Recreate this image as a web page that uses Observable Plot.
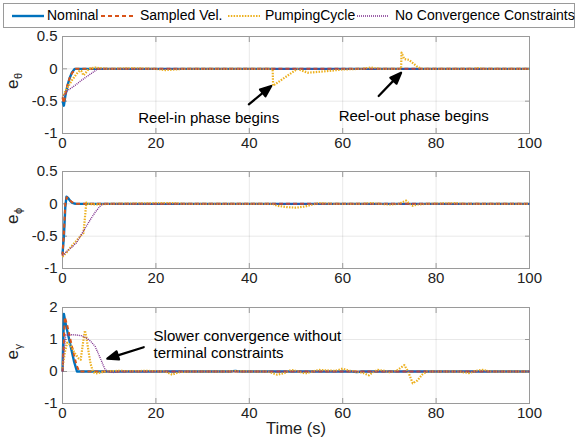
<!DOCTYPE html>
<html><head><meta charset="utf-8">
<script src="https://cdn.jsdelivr.net/npm/d3@7"></script>
<script src="https://cdn.jsdelivr.net/npm/@observablehq/plot@0.6"></script>
<style>
body{margin:0;background:#fff;font-family:"Liberation Sans",Arial,sans-serif;}
#root{position:relative;width:576px;height:446px;overflow:hidden;background:#fff}
#legend{position:absolute;left:3px;top:3px;width:572px;height:25px;border:1px solid #9a9a9a;box-sizing:border-box;background:#fff}
.item{position:absolute;top:0;height:23px;line-height:23px;font-size:14px;color:#000;white-space:nowrap}
.sw{position:absolute;top:0}
.panel{position:absolute;left:0}
</style></head><body><div id="root"><div id="legend"></div></div>
<script>
// ---------- data ----------
const seriesNames = ["Nominal", "Sampled Vel.", "PumpingCycle", "No Convergence Constraints"];
const xTicks = [0, 20, 40, 60, 80, 100];
const yTicksAngle = [-1, -0.5, 0, 0.5];
const yTicksGamma = [-1, 0, 1, 2];

// e_theta  [time, value]
const thetaNominal = [[0,-0.5],[0.3,-0.57],[0.6,-0.42],[1,-0.28],[1.5,-0.15],[2,-0.06],[2.6,0],[100,0]];
const thetaSampled = [[0,-0.45],[0.3,-0.53],[0.6,-0.4],[1,-0.27],[1.5,-0.15],[2,-0.07],[2.8,0],[100,0]];
const thetaPumping = [[0,-0.45],[0.5,-0.36],[1,-0.3],[1.5,-0.24],[2,-0.18],[2.5,-0.13],[3,-0.08],[3.5,-0.04],[4,-0.03],[4.5,-0.1],[5,-0.06],[5.5,-0.01],[6,0.01],[7,0.02],[8,0.01],[10,0],[15,0.01],[20,0],[22,-0.02],[24,-0.01],[26,0],[45,0],[45.1,-0.26],[50.3,0],[52.5,-0.06],[56,-0.04],[60,-0.01],[64,0],[66,0.02],[68,0],[72.5,0],[72.6,0.25],[73.2,0.15],[74.2,0.14],[75,0.09],[76,0.03],[77,0],[88,0],[89,0.01],[90,0],[100,0]];
const thetaNoConv = [[0,-0.45],[0.5,-0.39],[1,-0.34],[2,-0.29],[3,-0.24],[4,-0.18],[5,-0.13],[6,-0.08],[7,-0.03],[7.5,0],[100,0]];

// e_phi
const phiNominal = [[0,-0.78],[0.3,-0.5],[0.6,-0.05],[0.85,0.11],[1.2,0.09],[1.6,0.05],[2,0.02],[2.5,0.005],[3,0],[100,0]];
const phiSampled = [[0,-0.8],[0.3,-0.45],[0.6,0],[0.9,0.1],[1.3,0.08],[1.8,0.04],[2.4,0.01],[3,0],[100,0]];
const phiPumping = [[0,-0.82],[1,-0.74],[2,-0.65],[3,-0.57],[4.2,-0.47],[4.5,-0.45],[5.1,0.02],[5.5,0],[7,-0.01],[10,0],[15,0.005],[20,0.01],[24,0.01],[26,0],[45,0],[46,-0.03],[48,-0.05],[50,-0.06],[52,-0.04],[53.5,-0.01],[55,0.01],[58,0],[64,0],[66,0.01],[68,0],[70,-0.01],[72,0],[73.6,0.05],[74.3,0],[75,-0.03],[76,-0.01],[78,0],[84,0.01],[86,0],[100,0]];
const phiNoConv = [[0,-0.8],[1,-0.73],[2,-0.67],[3,-0.6],[4,-0.48],[5,-0.36],[6,-0.24],[7,-0.13],[8,-0.04],[8.6,0],[100,0]];

// e_gamma
const gammaNominal = [[0,0],[0.3,1.8],[0.6,1.55],[1.5,0.95],[2.5,0.3],[3.1,0],[36,0],[37,0.02],[38,0],[62,0],[63,-0.02],[64,0],[100,0]];
const gammaSampled = [[0,0],[0.5,1.7],[1,1.45],[2,0.8],[3,0.2],[3.6,0],[100,0]];
const gammaPumping = [[0,0.1],[0.5,0.6],[1,0.9],[1.5,0.85],[2,0.75],[2.5,0.6],[3,0.5],[3.5,0.4],[3.9,0.37],[4.4,0.9],[4.8,1.28],[5.2,1.0],[5.6,0.6],[6,0.25],[6.5,0],[7,-0.06],[8,-0.04],[9,0],[12,0.02],[15,0.01],[18,0.02],[20,0.01],[22,0],[23.5,-0.1],[25,-0.02],[27,0],[35,0],[37,0.01],[40,0],[44,0],[46,-0.1],[47.5,-0.05],[49,0.05],[50.5,0],[52,-0.06],[53.5,0],[55,0.05],[57,0.03],[58.5,0.02],[60,0.09],[61.5,0.02],[63,0],[64.5,-0.05],[65.6,-0.12],[66.5,-0.02],[67.5,0.05],[69,0.02],[70,-0.02],[71.5,0.02],[73.2,0.2],[74,0],[75,-0.37],[76,-0.28],[77,-0.1],[78,0],[85,0],[87,-0.05],[88.5,0.02],[90,0.05],[91.5,0],[100,0]];
const gammaNoConv = [[0,0],[0.3,0.6],[0.7,1.15],[2,1.15],[3,1.14],[4,1.12],[5,1.06],[6,0.95],[7,0.78],[8,0.45],[9,0.1],[9.5,0],[11,-0.03],[12,0],[100,0]];

// annotations (data coordinates)
const thetaArrows = [{x1:39.9,y1:-0.55,x2:44.7,y2:-0.265},{x1:67.7,y1:-0.42,x2:72.5,y2:-0.06}];
const thetaNotes = [{x:31.3,y:-0.75,text:"Reel-in phase begins"},{x:75.2,y:-0.73,text:"Reel-out phase begins"}];
const gammaArrows = [{x1:17.4,y1:0.76,x2:9.6,y2:0.4}];
const gammaNotes = [{x:19.5,y:0.85,text:"Slower convergence without\nterminal constraints"}];

// ---------- styles ----------
const styles = [
  {stroke:"#0072BD", strokeWidth:2.4, dash:null},
  {stroke:"#D95319", strokeWidth:2, dash:"4,3"},
  {stroke:"#EDB120", strokeWidth:2.2, dash:"1.5,1.3"},
  {stroke:"#7E2F8E", strokeWidth:1.4, dash:"1,1"}
];
const fontFamily = '"Liberation Sans", Arial, sans-serif';

// ---------- legend ----------
const legend = document.getElementById("legend");
const swX = [7, 96, 223, 352], txtX = [43, 136, 261, 391];
seriesNames.forEach((name, i) => {
  const s = styles[i];
  const sv = d3.select(legend).append("svg").attr("class","sw").attr("width",34).attr("height",23)
    .style("left", swX[i] + "px");
  sv.append("line").attr("x1",1).attr("x2",33).attr("y1",12).attr("y2",12)
    .attr("stroke", s.stroke).attr("stroke-width", s.strokeWidth).attr("stroke-dasharray", s.dash);
  d3.select(legend).append("div").attr("class","item").style("left", txtX[i] + "px").text(name);
});

// filled-head arrow shape for Plot.vector
const arrowShape = {
  draw(context, l) {
    const h = 11, w = 4.3;
    context.moveTo(0, 0);
    context.lineTo(0, -l + h);
    context.moveTo(0, -l);
    context.lineTo(-w, -l + h);
    context.lineTo(w, -l + h);
    context.closePath();
  }
};

// ---------- panels ----------
function panel({series, top, height, marginTop, marginBottom, yDomain, yTicks, sub, arrows, notes, xlabel}) {
  const ml = 62, mr = 47, width = 576;
  const sx = (width - ml - mr) / 100;
  const sy = (height - marginTop - marginBottom) / (yDomain[1] - yDomain[0]);
  const marks = [
    Plot.gridX(xTicks, {stroke:"#000", strokeOpacity:0.09}),
    Plot.gridY(yTicks, {stroke:"#000", strokeOpacity:0.09}),
    Plot.frame({stroke:"#9a9a9a"}),
    Plot.axisX(xTicks, {anchor:"bottom", tickSize:-5, tickPadding:9, stroke:"#9a9a9a", fill:"#222", fontSize:15, label:null}),
    Plot.axisX(xTicks, {anchor:"top", tickSize:-5, text:null, stroke:"#9a9a9a", label:null}),
    Plot.axisY(yTicks, {anchor:"left", tickSize:-5, tickPadding:10, stroke:"#9a9a9a", fill:"#222", fontSize:15, label:null, tickFormat: d => String(d)}),
    Plot.axisY(yTicks, {anchor:"right", tickSize:-5, text:null, stroke:"#9a9a9a", label:null}),
  ];
  series.forEach((arr, i) => {
    const s = styles[i];
    marks.push(Plot.line(arr, {x: d => d[0], y: d => d[1], stroke: s.stroke, strokeWidth: s.strokeWidth,
      strokeDasharray: s.dash, strokeLinecap:"butt", strokeLinejoin:"round", curve:"linear"}));
  });
  if (arrows) arrows.forEach(a => {
    const dxp = (a.x2 - a.x1) * sx, dyp = -(a.y2 - a.y1) * sy;
    marks.push(Plot.vector([a], {x:"x1", y:"y1", anchor:"start", length: Math.hypot(dxp, dyp),
      rotate: Math.atan2(dxp, -dyp) * 180 / Math.PI, shape: arrowShape, stroke:"#000", fill:"#000", strokeWidth:2.2}));
  });
  if (notes) marks.push(Plot.text(notes, {x:"x", y:"y", text:"text", fontSize:15, fill:"#000",
    textAnchor: notes[0].text.includes("\n") ? "start" : "middle", lineHeight:1.1}));
  if (xlabel) marks.push(Plot.text([xlabel], {frameAnchor:"bottom", dy:30, fontSize:16.5, fill:"#222"}));
  // rotated y label "e" with subscript
  marks.push(Plot.text(["e"], {frameAnchor:"left", dx:-45, dy:4, rotate:-90, lineAnchor:"bottom", fontSize:17, fill:"#222"}));
  marks.push(Plot.text([sub], {frameAnchor:"left", dx:-41, dy:-6, rotate:-90, lineAnchor:"bottom", fontSize:11, fill:"#222"}));
  const svg = Plot.plot({
    width, height, marginTop, marginBottom, marginLeft: ml, marginRight: mr,
    style: {fontFamily, background:"transparent", overflow:"visible"},
    x: {domain:[0,100]},
    y: {domain: yDomain},
    marks
  });
  const wrap = document.createElement("div");
  wrap.className = "panel";
  wrap.style.top = top + "px";
  wrap.appendChild(svg);
  document.getElementById("root").appendChild(wrap);
}

panel({series:[thetaNominal, thetaSampled, thetaPumping, thetaNoConv], top:28, height:132, marginTop:8, marginBottom:27,
  yDomain:[-1,0.5], yTicks:yTicksAngle, sub:"θ", arrows:thetaArrows, notes:thetaNotes});
panel({series:[phiNominal, phiSampled, phiPumping, phiNoConv], top:160, height:135, marginTop:11, marginBottom:27,
  yDomain:[-1,0.5], yTicks:yTicksAngle, sub:"ϕ"});
panel({series:[gammaNominal, gammaSampled, gammaPumping, gammaNoConv], top:295, height:151, marginTop:12, marginBottom:43,
  yDomain:[-1,2], yTicks:yTicksGamma, sub:"γ", arrows:gammaArrows, notes:gammaNotes, xlabel:"Time (s)"});
</script></body></html>
